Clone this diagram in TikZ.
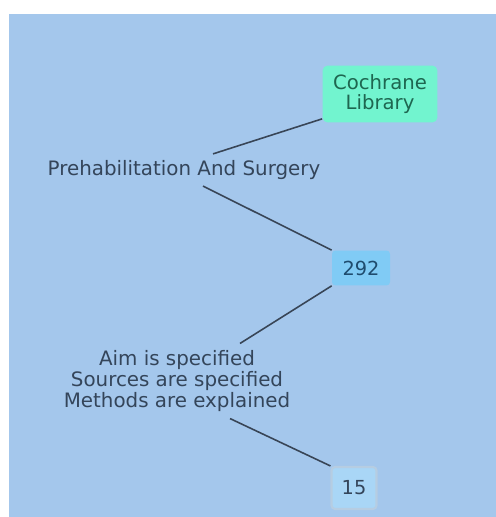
\documentclass[tikz,border=0pt]{standalone}
\usepackage{fontspec}
\setmainfont{DejaVu Sans}
\usetikzlibrary{calc}
\definecolor{sheet}{HTML}{A4C7EC}
\definecolor{mint}{HTML}{72F4CF}
\definecolor{mintText}{HTML}{1E6650}
\definecolor{sky}{HTML}{80CBF5}
\definecolor{skyText}{HTML}{1F4C6E}
\definecolor{pale}{HTML}{A9D6F6}
\definecolor{paleLine}{HTML}{B6CDE2}
\definecolor{ink}{HTML}{34455A}
\definecolor{wire}{HTML}{384556}
\tikzset{
    map edge/.style = {draw=wire, line width=0.9pt},
    topic/.style = {text=ink, inner sep=3.5pt, align=center,
        font=\fontsize{11.3}{12.2}\selectfont},
    source/.style = {fill=mint, text=mintText, rounded corners=3pt,
        minimum width=2.3cm, minimum height=1.14cm, align=center,
        font=\fontsize{11.2}{11.6}\selectfont},
    count/.style = {fill=sky, text=skyText, rounded corners=2pt,
        minimum width=1.16cm, minimum height=0.7cm,
        font=\fontsize{11}{12}\selectfont},
    final count/.style = {count, fill=pale, draw=paleLine, line width=1.2pt,
        text=ink, minimum width=0.9cm, minimum height=0.84cm},
}
\begin{document}
\begin{tikzpicture}[x=0.02cm, y=-0.02cm]
            \useasboundingbox (0, 0) rectangle (496, 517);
            \fill[white] (0, 0) rectangle (496, 517);
            \fill[sheet] (9, 14) rectangle (496, 517);

            \node[source] (cochrane) at (380, 94) {Cochrane\\Library};
            \node[topic] (prehab) at (184, 170) {Prehabilitation And Surgery};
            \node[count] (n292) at (361, 268) {292};
            \node[topic] (aim) at (177, 381) {Aim is specified\\Sources are specified\\Methods are explained};
            \node[final count] (n15) at (354, 488) {15};

            \draw[map edge] ($(prehab.north)+(29, 0)$) -- ($(cochrane.south west)+(0, -4)$);
            \draw[map edge] ($(prehab.south)+(19, 0)$) -- (n292.north west);
            \draw[map edge] (n292.south west) -- ($(aim.north)+(63, 0)$);
            \draw[map edge] ($(aim.south)+(53, 0)$) -- (n15.north west);
        \end{tikzpicture}
\end{document}
